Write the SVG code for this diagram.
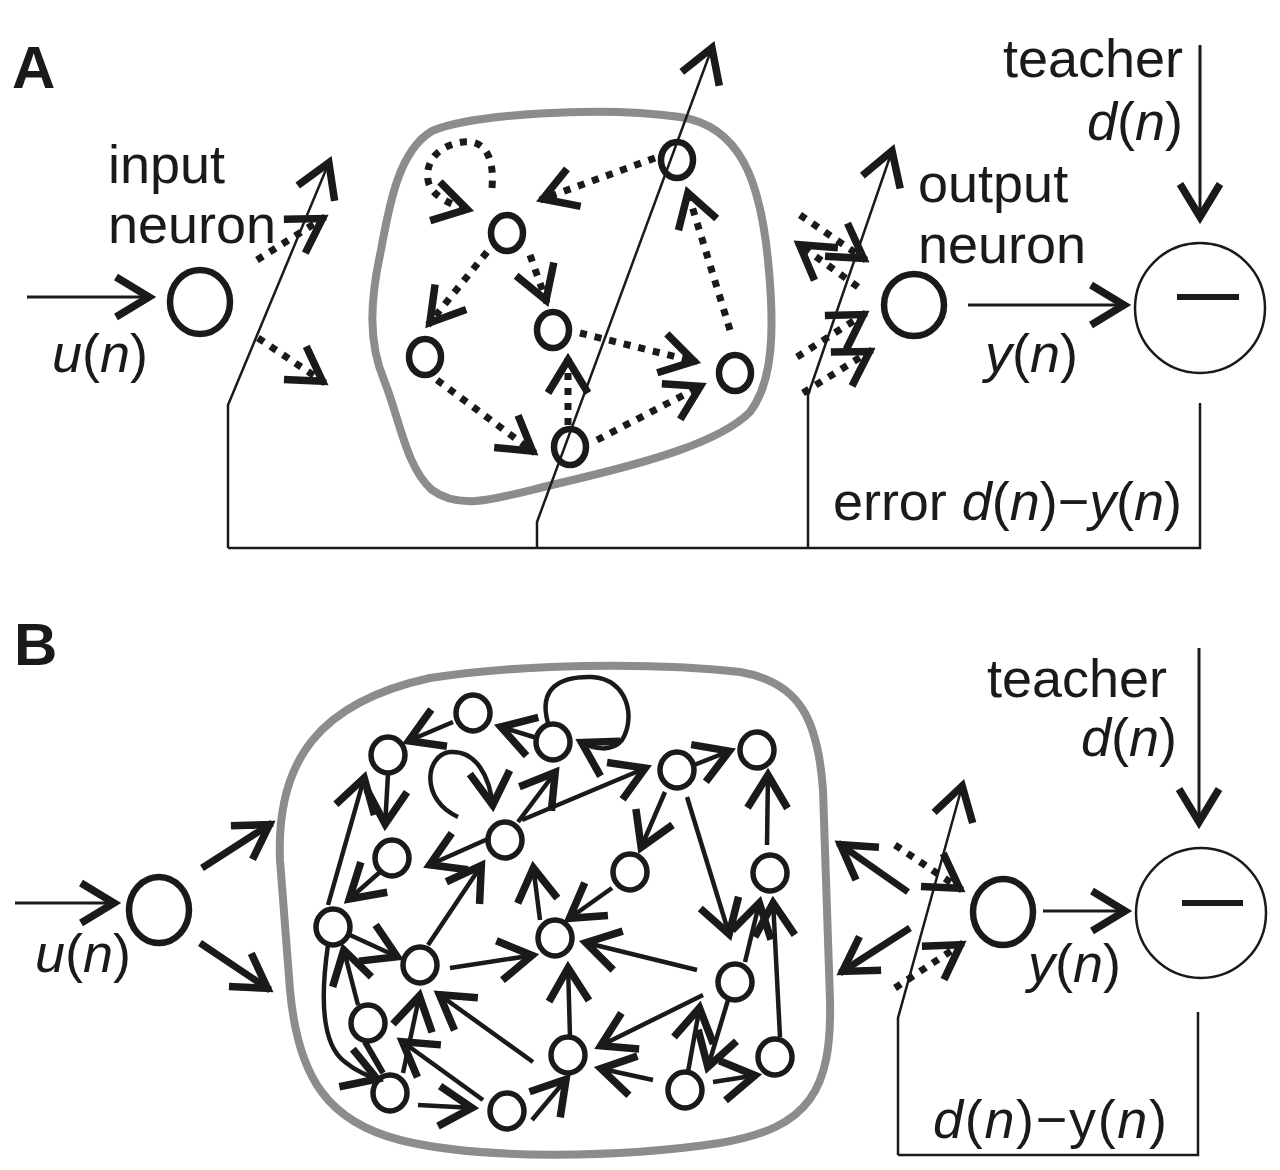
<svg xmlns="http://www.w3.org/2000/svg" width="1280" height="1170" viewBox="0 0 1280 1170">
<style>
text { font-family: "Liberation Sans", Arial, sans-serif; font-size: 54px; fill: #1a1a1a; }
.it { font-style: italic; }
.lbl { font-weight: bold; font-size: 60px; }
.res { fill: none; stroke: #8c8c8c; stroke-width: 8; }
.nrn { fill: none; stroke: #1a1a1a; stroke-width: 6.5; }
.sm { fill: none; stroke: #1a1a1a; stroke-width: 5.5; }
.thin { fill: none; stroke: #1a1a1a; stroke-width: 2.5; }
.ln { fill: none; stroke: #1a1a1a; stroke-width: 3; }
.arr { marker-end: url(#ah); }
.e { fill: none; stroke: #1a1a1a; stroke-width: 4.5; marker-end: url(#ah); }
.dot { fill: none; stroke: #1a1a1a; stroke-width: 7; stroke-dasharray: 7 8; marker-end: url(#ah); }
.bold { fill: none; stroke: #1a1a1a; stroke-width: 7; marker-end: url(#ah); }
</style>
<defs>
<marker id="ah" markerUnits="userSpaceOnUse" viewBox="-50 -30 60 60" markerWidth="60" markerHeight="60" refX="0" refY="0" orient="auto">
<path d="M-36,-20 L-3,0 L-36,20" fill="none" stroke="#1a1a1a" stroke-width="7.5"/>
</marker>
</defs>
<rect width="1280" height="1170" fill="#ffffff"/>

<!-- ================= PANEL A ================= -->
<text class="lbl" x="12" y="88">A</text>

<g id="A-reservoir">
<path class="res" d="M 432,131 C 470,114 600,106 680,117 C 740,126 760,180 768,260 C 775,330 773,382 750,412 C 720,442 650,462 560,483 C 500,497 462,512 432,490 C 406,467 400,420 384,380 C 368,342 370,300 381,250 C 390,200 400,150 432,131 Z"/>
</g>

<g id="A-input-neuron">
<ellipse class="nrn" cx="200" cy="302" rx="30" ry="32"/>
<text x="108" y="183">input</text>
<text x="108" y="243">neuron</text>
</g>
<g id="A-output-neuron">
<ellipse class="nrn" cx="914" cy="305" rx="30" ry="31"/>
<text x="918" y="202">output</text>
<text x="918" y="263">neuron</text>
</g>
<g id="A-subtract">
<circle cx="1200" cy="308" r="65" fill="none" stroke="#1a1a1a" stroke-width="2.5"/>
<line x1="1177" y1="297" x2="1239" y2="297" stroke="#1a1a1a" stroke-width="6"/>
</g>
<g id="A-n1"><ellipse class="nrn" cx="677" cy="160" rx="16" ry="18"/></g>
<g id="A-n2"><ellipse class="nrn" cx="507" cy="233" rx="16" ry="18"/></g>
<g id="A-n3"><ellipse class="nrn" cx="553" cy="330" rx="16" ry="18"/></g>
<g id="A-n4"><ellipse class="nrn" cx="425" cy="357" rx="16" ry="18"/></g>
<g id="A-n5"><ellipse class="nrn" cx="735" cy="373" rx="16" ry="18"/></g>
<g id="A-n6"><ellipse class="nrn" cx="570" cy="447" rx="16" ry="18"/></g>

<g id="A-labels">
<text x="52" y="372"><tspan class="it">u</tspan>(<tspan class="it">n</tspan>)</text>
<text x="985" y="372"><tspan class="it">y</tspan>(<tspan class="it">n</tspan>)</text>
<text x="1183" y="77" text-anchor="end">teacher</text>
<text x="1183" y="140" text-anchor="end"><tspan class="it">d</tspan>(<tspan class="it">n</tspan>)</text>
<text x="833" y="520" textLength="349">error <tspan class="it">d</tspan>(<tspan class="it">n</tspan>)−<tspan class="it">y</tspan>(<tspan class="it">n</tspan>)</text>
</g>

<g id="A-connectors">
<line class="ln arr" x1="27" y1="297" x2="152" y2="297"/>
<polyline class="thin arr" points="228,548 228,405 330,160"/>
<line class="dot" x1="257" y1="260" x2="325" y2="217"/>
<line class="dot" x1="258" y1="338" x2="325" y2="383"/>
<polyline class="thin" points="228,548 1200,548 1200,403"/>
<polyline class="thin arr" points="537,548 537,522 713,45"/>
<polyline class="thin arr" points="808,548 808,395 893,148"/>
<line class="ln arr" x1="1200" y1="45" x2="1200" y2="220"/>
<line class="ln arr" x1="968" y1="305" x2="1127" y2="305"/>
<line class="dot" x1="858" y1="287" x2="797" y2="243"/>
<line class="dot" x1="800" y1="215" x2="866" y2="260"/>
<line class="dot" x1="797" y1="357" x2="866" y2="313"/>
<line class="dot" x1="803" y1="393" x2="872" y2="350"/>
<!-- reservoir A -->
<line class="dot" x1="655" y1="158" x2="540" y2="200"/>
<path class="dot" d="M 492,188 C 495,150 480,140 463,142 C 440,145 425,160 428,180 C 430,195 450,205 470,210"/>
<line class="dot" x1="487" y1="252" x2="428" y2="325"/>
<line class="dot" x1="530" y1="255" x2="547" y2="303"/>
<line class="dot" x1="580" y1="333" x2="697" y2="362"/>
<line class="dot" x1="730" y1="330" x2="687" y2="190"/>
<line class="dot" x1="437" y1="380" x2="535" y2="453"/>
<line class="dot" x1="568" y1="425" x2="568" y2="357"/>
<line class="dot" x1="597" y1="440" x2="703" y2="385"/>
</g>

<!-- ================= PANEL B ================= -->
<text class="lbl" x="14" y="665">B</text>

<g id="B-reservoir">
<path class="res" d="M 430,678 C 520,664 650,662 740,672 C 800,682 818,720 823,790 L 830,1000 C 832,1090 810,1128 720,1143 C 620,1158 480,1160 400,1140 C 330,1122 298,1080 290,990 L 280,860 C 276,760 320,702 430,678 Z"/>
</g>

<g id="B-input-neuron"><ellipse class="nrn" cx="159" cy="910" rx="30" ry="33"/></g>
<g id="B-output-neuron"><ellipse class="nrn" cx="1003" cy="912" rx="30" ry="33"/></g>
<g id="B-subtract">
<circle cx="1201" cy="913" r="65" fill="none" stroke="#1a1a1a" stroke-width="2.5"/>
<line x1="1182" y1="903" x2="1243" y2="903" stroke="#1a1a1a" stroke-width="6"/>
</g>

<g id="B-nodes">
<g id="B-a"><ellipse class="sm" cx="473" cy="713" rx="17" ry="18"/></g>
<g id="B-b"><ellipse class="sm" cx="553" cy="742" rx="17" ry="18"/></g>
<g id="B-c"><ellipse class="sm" cx="388" cy="755" rx="17" ry="18"/></g>
<g id="B-d"><ellipse class="sm" cx="677" cy="770" rx="17" ry="18"/></g>
<g id="B-e"><ellipse class="sm" cx="757" cy="750" rx="17" ry="18"/></g>
<g id="B-f"><ellipse class="sm" cx="505" cy="840" rx="17" ry="18"/></g>
<g id="B-g"><ellipse class="sm" cx="392" cy="858" rx="17" ry="18"/></g>
<g id="B-h"><ellipse class="sm" cx="630" cy="872" rx="17" ry="18"/></g>
<g id="B-i"><ellipse class="sm" cx="770" cy="873" rx="17" ry="18"/></g>
<g id="B-j"><ellipse class="sm" cx="333" cy="927" rx="17" ry="18"/></g>
<g id="B-k"><ellipse class="sm" cx="420" cy="965" rx="17" ry="18"/></g>
<g id="B-l"><ellipse class="sm" cx="555" cy="938" rx="17" ry="18"/></g>
<g id="B-m"><ellipse class="sm" cx="735" cy="982" rx="17" ry="18"/></g>
<g id="B-n"><ellipse class="sm" cx="368" cy="1023" rx="17" ry="18"/></g>
<g id="B-o"><ellipse class="sm" cx="568" cy="1055" rx="17" ry="18"/></g>
<g id="B-p"><ellipse class="sm" cx="775" cy="1057" rx="17" ry="18"/></g>
<g id="B-q"><ellipse class="sm" cx="390" cy="1093" rx="17" ry="18"/></g>
<g id="B-r"><ellipse class="sm" cx="507" cy="1111" rx="17" ry="18"/></g>
<g id="B-s"><ellipse class="sm" cx="685" cy="1090" rx="17" ry="18"/></g>
</g>

<g id="B-labels">
<text x="35" y="972"><tspan class="it">u</tspan>(<tspan class="it">n</tspan>)</text>
<text x="1167" y="697" text-anchor="end">teacher</text>
<text x="1177" y="756" text-anchor="end"><tspan class="it">d</tspan>(<tspan class="it">n</tspan>)</text>
<text x="1028" y="982"><tspan class="it">y</tspan>(<tspan class="it">n</tspan>)</text>
<text x="933" y="1138" textLength="234"><tspan class="it">d</tspan>(<tspan class="it">n</tspan>)−y(<tspan class="it">n</tspan>)</text>
</g>

<g id="B-connectors">
<line class="ln arr" x1="15" y1="903" x2="117" y2="903"/>
<line class="bold" x1="202" y1="868" x2="272" y2="823"/>
<line class="bold" x1="200" y1="943" x2="270" y2="990"/>
<line class="bold" x1="908" y1="892" x2="838" y2="843"/>
<line class="bold" x1="910" y1="928" x2="840" y2="973"/>
<line class="dot" x1="895" y1="845" x2="962" y2="890"/>
<line class="dot" x1="895" y1="988" x2="963" y2="943"/>
<polyline class="thin arr" points="898,1155 898,1018 963,783"/>
<polyline class="thin" points="898,1155 1198,1155 1198,1012"/>
<line class="ln arr" x1="1199" y1="648" x2="1199" y2="825"/>
<line class="ln arr" x1="1043" y1="911" x2="1128" y2="911"/>
<!-- reservoir B edges -->
<line class="e" x1="453" y1="722" x2="406" y2="742"/>
<line class="e" x1="537" y1="738" x2="498" y2="726"/>
<path class="e" d="M 548,723 C 538,688 560,676 592,677 C 628,679 636,718 622,740 C 612,752 595,750 579,741"/>
<path class="e" d="M 458,817 C 420,800 425,755 450,752 C 475,750 490,775 493,808"/>
<line class="e" x1="388" y1="774" x2="385" y2="827"/>
<line class="e" x1="328" y1="905" x2="365" y2="775"/>
<line class="e" x1="380" y1="872" x2="347" y2="901"/>
<line class="e" x1="490" y1="838" x2="427" y2="866"/>
<line class="e" x1="428" y1="945" x2="483" y2="863"/>
<line class="e" x1="540" y1="920" x2="533" y2="865"/>
<line class="e" x1="518" y1="822" x2="557" y2="770"/>
<line class="e" x1="522" y1="820" x2="648" y2="767"/>
<line class="e" x1="694" y1="765" x2="732" y2="750"/>
<line class="e" x1="665" y1="792" x2="640" y2="850"/>
<line class="e" x1="687" y1="797" x2="730" y2="937"/>
<line class="e" x1="767" y1="845" x2="768" y2="772"/>
<line class="e" x1="745" y1="962" x2="760" y2="900"/>
<line class="e" x1="780" y1="1037" x2="773" y2="900"/>
<line class="e" x1="697" y1="970" x2="583" y2="942"/>
<line class="e" x1="703" y1="995" x2="598" y2="1047"/>
<line class="e" x1="653" y1="1080" x2="598" y2="1068"/>
<line class="e" x1="570" y1="1037" x2="568" y2="965"/>
<line class="e" x1="612" y1="888" x2="567" y2="920"/>
<line class="e" x1="688" y1="1072" x2="700" y2="1005"/>
<line class="e" x1="728" y1="1000" x2="707" y2="1070"/>
<line class="e" x1="713" y1="1082" x2="758" y2="1075"/>
<line class="e" x1="350" y1="935" x2="400" y2="958"/>
<line class="e" x1="358" y1="1005" x2="343" y2="947"/>
<path class="e" d="M 328,945 C 320,1000 322,1045 345,1062 C 356,1071 366,1075 380,1080"/>
<line x1="365" y1="1042" x2="383" y2="1073" stroke="#1a1a1a" stroke-width="6"/>
<line class="e" x1="403" y1="1073" x2="420" y2="993"/>
<line class="e" x1="483" y1="1100" x2="400" y2="1040"/>
<line class="e" x1="533" y1="1062" x2="437" y2="993"/>
<line class="e" x1="450" y1="968" x2="535" y2="955"/>
<line class="e" x1="418" y1="1105" x2="475" y2="1108"/>
<line class="e" x1="532" y1="1120" x2="568" y2="1077"/>
</g>
</svg>
